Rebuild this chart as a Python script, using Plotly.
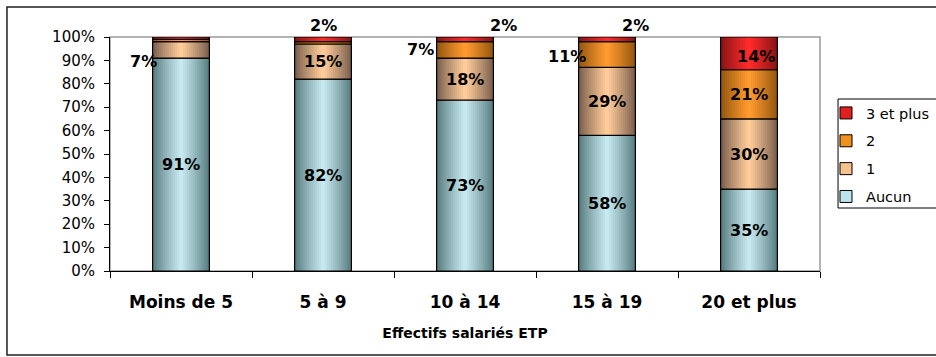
import plotly.graph_objects as go

# ---------------- data ----------------
categories = ["Moins de 5", "5 à 9", "10 à 14", "15 à 19", "20 et plus"]
series_names = ["Aucun", "1", "2", "3 et plus"]
aucun = [91, 82, 73, 58, 35]
un = [7, 15, 18, 29, 30]
deux = [1, 1, 7, 11, 21]
trois = [1, 2, 2, 2, 14]
values = [aucun, un, deux, trois]

y_ticks = list(range(0, 101, 10))

# label display per series/category: (mode, xshift, yshift); mode in "in", "side", "top", None
label_style = [
    [("in", 0, 0)] * 5,
    [("side", -38, -12), ("in", 0, 0), ("in", 0, 0), ("in", 0, 0), ("in", 0, 0)],
    [(None, 0, 0), (None, 0, 0), ("side", -45, 0), ("side", -40, -2), ("in", 0, 0)],
    [(None, 0, 0), ("top", 0, 12), ("top", 38, 12), ("top", 28, 12), ("in", 7, -3)],
]

# ---------------- style ----------------
colors_light = ["#C6E9F0", "#FFCC99", "#FF9A2E", "#FF2A2A"]
colors_dark = ["#587D80", "#7A5F4E", "#93560F", "#881414"]
legend_colors = ["#BDE4EA", "#F5C28E", "#F0901E", "#E0201E"]

FONT = "DejaVu Sans"
W = 0.40      # bar width (category units)
N = 14        # gradient levels
P = 0.5       # position of highlight across bar


def hex2rgb(h):
    h = h.lstrip("#")
    return tuple(int(h[i:i + 2], 16) for i in (0, 2, 4))


def mix(c1, c2, t):
    a, b = hex2rgb(c1), hex2rgb(c2)
    return "rgb(%d,%d,%d)" % tuple(round(a[i] + (b[i] - a[i]) * t) for i in range(3))


fig = go.Figure()

bases = []
cum = [0] * len(categories)
for vals in values:
    bases.append(list(cum))
    cum = [c + v for c, v in zip(cum, vals)]

for s, vals in enumerate(values):
    base = bases[s]
    for k in range(N):
        left = W * P * k / N
        right = W - W * (1 - P) * k / N
        t = (k / (N - 1)) ** 0.9
        fig.add_bar(
            x=categories, y=vals, base=base,
            width=right - left, offset=-W / 2 + left,
            marker=dict(color=mix(colors_dark[s], colors_light[s], t), line=dict(width=0)),
            showlegend=False, hoverinfo="skip",
        )
    fig.add_bar(
        x=categories, y=vals, base=base, width=W, offset=-W / 2,
        marker=dict(color="rgba(0,0,0,0)", line=dict(color="black", width=1.2)),
        showlegend=False, hoverinfo="skip",
    )

# legend entries (top to bottom: 3 et plus ... Aucun)
for s in reversed(range(len(series_names))):
    fig.add_bar(
        x=[None], y=[None], name=series_names[s], legendgroup=series_names[s],
        marker=dict(color=legend_colors[s], line=dict(color="black", width=1)),
        showlegend=True,
    )

# data labels
annotations = []
for s, vals in enumerate(values):
    for i, cat in enumerate(categories):
        mode, xs, ys = label_style[s][i]
        if mode is None:
            continue
        y = bases[s][i] + vals[i] / 2
        if mode == "top":
            y = 100
        annotations.append(dict(
            x=cat, y=y, xref="x", yref="y", text=f"{vals[i]}%", showarrow=False,
            xshift=xs, yshift=ys, xanchor="center", yanchor="middle",
            font=dict(family=FONT, size=16, color="black", weight="bold"),
        ))

fig.update_layout(
    width=936, height=357,
    margin=dict(l=110, r=116, t=37, b=86, autoexpand=False),
    paper_bgcolor="white", plot_bgcolor="white",
    barmode="overlay",
    annotations=annotations,
    legend=dict(
        xref="container", yref="container",
        x=826 / 936, y=1 - 97 / 357, xanchor="left", yanchor="top",
        borderwidth=0, bgcolor="rgba(0,0,0,0)",
        font=dict(family=FONT, size=14.5, color="black"),
        traceorder="grouped", tracegroupgap=6,
    ),
    xaxis=dict(
        type="category", categoryorder="array", categoryarray=categories,
        range=[-0.5, len(categories) - 0.5],
        showline=True, linecolor="black", linewidth=1,
        ticks="outside", tickson="boundaries", ticklen=6, tickcolor="black",
        tickfont=dict(family=FONT, size=17, color="black", weight="bold"),
        ticklabelstandoff=16,
        title=dict(text="Effectifs salariés ETP", standoff=16,
                   font=dict(family=FONT, size=14, color="black", weight="bold")),
        showgrid=False, zeroline=False,
    ),
    yaxis=dict(
        range=[0, 100], tickvals=y_ticks, ticktext=[f"{v}%" for v in y_ticks],
        showline=True, linecolor="black", linewidth=1,
        ticks="outside", ticklen=5, tickcolor="black",
        tickfont=dict(family=FONT, size=15, color="black"),
        ticklabelstandoff=6,
        showgrid=False, zeroline=False,
    ),
    shapes=[
        dict(type="rect", xref="paper", yref="paper", x0=0, x1=1, y0=0, y1=1,
             line=dict(color="#9A9A9A", width=1.5), layer="below"),
        dict(type="rect", xref="paper", yref="paper", x0=-0.1451, x1=1.1648,
             y0=-0.359, y1=1.1282, line=dict(color="#202020", width=1.5), layer="above"),
        # legend frame
        dict(type="rect", xref="paper", yref="paper", x0=1.0254, x1=1.17,
             y0=0.2692, y1=0.735, line=dict(color="black", width=1),
             fillcolor="white", layer="below"),
    ],
)

fig.write_html("out.html")
